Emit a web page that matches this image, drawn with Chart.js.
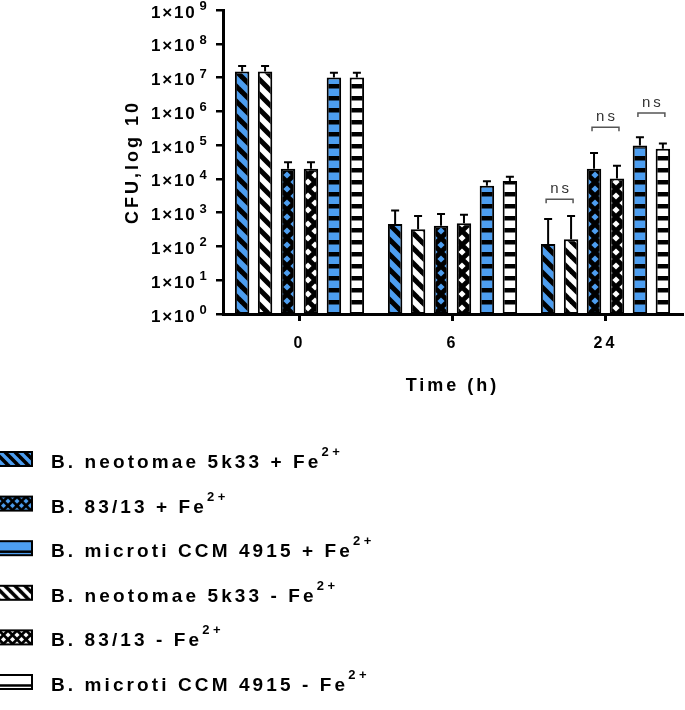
<!DOCTYPE html>
<html><head><meta charset="utf-8">
<script src="https://cdn.jsdelivr.net/npm/chart.js@4/dist/chart.umd.min.js"></script>
<style>html,body{margin:0;padding:0;background:#fff}</style>
</head><body>
<canvas id="c" width="685" height="710"></canvas>
<script>
// ---------- data ----------
const categories = ['0', '6', '24'];
const seriesLabels = [
  'B. neotomae 5k33 + Fe2+',
  'B. neotomae 5k33 - Fe2+',
  'B. 83/13 + Fe2+',
  'B. 83/13 - Fe2+',
  'B. microti CCM 4915 + Fe2+',
  'B. microti CCM 4915 - Fe2+'
];
const neoPlus     = [1.5e7, 460, 118];
const neoPlusSD   = [7e6, 690, 530];
const neoMinus    = [1.5e7, 325, 162];
const neoMinusSD  = [7e6, 470, 630];
const s83Plus     = [2.0e4, 410, 2.0e4];
const s83PlusSD   = [1.1e4, 500, 3.8e4];
const s83Minus    = [2.0e4, 490, 1.03e4];
const s83MinusSD  = [1.1e4, 380, 1.4e4];
const micPlus     = [1.0e7, 6300, 9.8e4];
const micPlusSD   = [3.9e6, 2200, 7.2e4];
const micMinus    = [1.0e7, 8600, 7.8e4];
const micMinusSD  = [3.9e6, 2900, 3.4e4];
const yTicks = [1, 10, 100, 1e3, 1e4, 1e5, 1e6, 1e7, 1e8, 1e9];
const nsCategory = '24';
const nsPairs = [[0, 1], [2, 3], [4, 5]];
const nsLevels = [2500, 3.4e5, 8.9e5];
const nsText = 'ns';
const legendOrder = [0, 2, 4, 1, 3, 5];
const xTitle = 'Time (h)';
const yTitle = 'CFU,log 10';

// ---------- styling ----------
const FONT = '"Liberation Sans", Arial, Helvetica, sans-serif';
const BLUE = '#4d9ef0';

function mkTile(w, h, draw) {
  const c = document.createElement('canvas'); c.width = w; c.height = h;
  draw(c.getContext('2d'), w, h); return c;
}
function diagTile(bg, T, lw) {
  return mkTile(T, T, g => {
    g.fillStyle = bg; g.fillRect(0, 0, T, T);
    g.strokeStyle = '#000'; g.lineWidth = lw;
    for (let k = -1; k <= 1; k++) {
      g.beginPath(); g.moveTo(k * T - 2, -2); g.lineTo(k * T + T + 2, T + 2); g.stroke();
    }
  });
}
function crossTile(fg, T, r) {
  return mkTile(T, T, g => {
    g.fillStyle = '#000'; g.fillRect(0, 0, T, T);
    g.fillStyle = fg;
    for (const [cx, cy] of [[T / 2, T / 2], [0, 0], [T, 0], [0, T], [T, T]]) {
      g.beginPath(); g.moveTo(cx, cy - r); g.lineTo(cx + r, cy); g.lineTo(cx, cy + r); g.lineTo(cx - r, cy); g.closePath(); g.fill();
    }
  });
}
function hTile(fg, T, band) {
  return mkTile(4, T, g => {
    g.fillStyle = fg; g.fillRect(0, 0, 4, T);
    g.fillStyle = '#000'; g.fillRect(0, 0, 4, band);
  });
}
const pctx = document.createElement('canvas').getContext('2d');
function pat(tile) { return pctx.createPattern(tile, 'repeat'); }

const kinds = ['diag', 'diag', 'cross', 'cross', 'h', 'h'];
const fills = [BLUE, '#fff', BLUE, '#fff', BLUE, '#fff'];
function barPattern(i) {
  const k = kinds[i], f = fills[i];
  if (k === 'diag') return pat(diagTile(f, 15, 5));
  if (k === 'cross') return pat(crossTile(f, 14, 3.6));
  return pat(hTile(f, 12, 4.5));
}
function legendTile(i) {
  const k = kinds[i], f = fills[i];
  if (k === 'diag') return diagTile(f, 10, 3.6);
  if (k === 'cross') return crossTile(f, 9, 2.6);
  return null;
}

const values = [neoPlus, neoMinus, s83Plus, s83Minus, micPlus, micMinus];
const sds = [neoPlusSD, neoMinusSD, s83PlusSD, s83MinusSD, micPlusSD, micMinusSD];

const datasets = values.map((v, i) => ({
  label: seriesLabels[i],
  data: v,
  sd: sds[i],
  backgroundColor: barPattern(i),
  borderColor: '#000',
  borderWidth: 2,
  borderSkipped: false,
  categoryPercentage: 0.9,
  barPercentage: 0.63
}));

const drawPlugin = {
  id: 'custom',
  beforeDraw(chart) { chart.ctx.letterSpacing = '3px'; },
  afterDatasetsDraw(chart) {
    const ctx = chart.ctx, y = chart.scales.y;
    ctx.save();
    ctx.strokeStyle = '#000'; ctx.lineWidth = 2; ctx.lineCap = 'butt';
    chart.data.datasets.forEach((ds, di) => {
      const meta = chart.getDatasetMeta(di);
      meta.data.forEach((bar, i) => {
        const top = y.getPixelForValue(ds.data[i] + ds.sd[i]);
        ctx.beginPath();
        ctx.moveTo(bar.x, bar.y); ctx.lineTo(bar.x, top);
        ctx.moveTo(bar.x - 4, top); ctx.lineTo(bar.x + 4, top);
        ctx.stroke();
      });
    });
    const ci = categories.indexOf(nsCategory);
    nsPairs.forEach(([a, b], k) => {
      const xa = chart.getDatasetMeta(a).data[ci].x - 2;
      const xb = chart.getDatasetMeta(b).data[ci].x + 2;
      const yy = y.getPixelForValue(nsLevels[k]);
      ctx.strokeStyle = '#555'; ctx.lineWidth = 1.5;
      ctx.beginPath(); ctx.moveTo(xa, yy + 4); ctx.lineTo(xa, yy); ctx.lineTo(xb, yy); ctx.lineTo(xb, yy + 4); ctx.stroke();
      ctx.fillStyle = '#333'; ctx.font = '15px ' + FONT; ctx.letterSpacing = '3px';
      ctx.textAlign = 'center'; ctx.textBaseline = 'alphabetic';
      ctx.fillText(nsText, (xa + xb) / 2 + 1.5, yy - 6);
    });
    ctx.restore();
  },
  afterDraw(chart) {
    const ctx = chart.ctx, y = chart.scales.y;
    ctx.save();
    ctx.fillStyle = '#000'; ctx.textAlign = 'left'; ctx.textBaseline = 'alphabetic';
    // y tick labels 1x10^n
    yTicks.forEach(v => {
      const py = y.getPixelForValue(v);
      const exp = Math.round(Math.log10(v));
      ctx.font = 'bold 17px ' + FONT; ctx.letterSpacing = '1.8px';
      const x0 = y.right - 72;
      ctx.fillText('1\u00d710', x0, py + 7.5);
      const w = ctx.measureText('1\u00d710').width;
      ctx.font = 'bold 13px ' + FONT; ctx.letterSpacing = '0px';
      ctx.fillText(String(exp), x0 + w + 3, py);
    });
    // legend
    legendOrder.forEach((di, k) => {
      const ds = chart.data.datasets[di];
      const cy = 461 + k * 44.6;
      const sx = -1, sy = cy - 9, sw = 33, sh = 14;
      const tile = legendTile(di);
      if (tile) {
        const p = ctx.createPattern(tile, 'repeat');
        p.setTransform(new DOMMatrix([1, 0, 0, 1, sx, cy - tile.height / 2]));
        ctx.fillStyle = p;
        ctx.fillRect(sx, sy, sw, sh);
      } else {
        ctx.fillStyle = fills[di]; ctx.fillRect(sx, sy, sw, sh);
        ctx.fillStyle = '#000'; ctx.fillRect(sx, sy + sh * 0.66, sw, 2.5);
      }
      ctx.strokeStyle = '#000'; ctx.lineWidth = 2;
      ctx.strokeRect(sx, sy, sw, sh);
      const m = ds.label.match(/^(.*?)(\d\+)$/);
      ctx.fillStyle = '#000';
      ctx.font = 'bold 19px ' + FONT; ctx.letterSpacing = '3.1px';
      ctx.fillText(m[1], 51, cy + 7);
      const w = ctx.measureText(m[1]).width;
      ctx.font = 'bold 13px ' + FONT; ctx.letterSpacing = '3.5px';
      ctx.fillText(m[2], 51 + w, cy - 5);
    });
    ctx.restore();
  }
};

new Chart(document.getElementById('c'), {
  type: 'bar',
  data: { labels: categories, datasets },
  options: {
    responsive: false, animation: false, devicePixelRatio: 1,
    layout: { padding: { top: 10, right: 3, bottom: 306, left: 0 } },
    plugins: { legend: { display: false }, tooltip: { enabled: false } },
    scales: {
      x: {
        grid: { display: true, drawOnChartArea: false, offset: false, tickLength: 7, color: '#000', lineWidth: 3 },
        border: { display: true, color: '#000', width: 3 },
        ticks: { color: '#000', font: { family: FONT, size: 16, weight: 'bold' }, padding: 13 },
        title: { display: true, text: xTitle, color: '#000', font: { family: FONT, size: 18, weight: 'bold' }, padding: { top: 0, bottom: 7 } },
        afterFit: s => { s.height = 90; }
      },
      y: {
        type: 'logarithmic', min: 1, max: 1e9,
        afterBuildTicks: s => { s.ticks = yTicks.map(v => ({ value: v })); },
        ticks: { display: false },
        grid: { display: true, drawOnChartArea: false, drawTicks: true, tickLength: 7, color: '#000', lineWidth: 2.5 },
        border: { display: true, color: '#000', width: 3 },
        title: { display: true, text: yTitle, color: '#000', font: { family: FONT, size: 18, weight: 'bold' }, padding: { top: 122, bottom: 0 } },
        afterFit: s => { s.width = 223; }
      }
    }
  },
  plugins: [drawPlugin]
});
</script>
</body></html>
